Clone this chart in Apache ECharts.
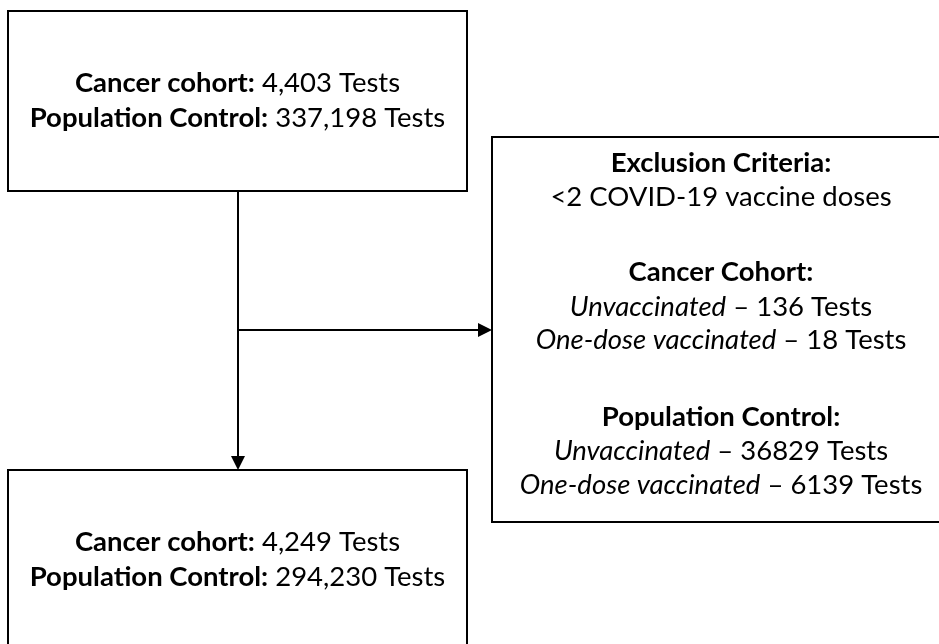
<!DOCTYPE html>
<html>
<head>
<meta charset="utf-8">
<script src="https://cdn.jsdelivr.net/npm/echarts@6/dist/echarts.min.js"></script>
<style>
  html, body { margin: 0; padding: 0; background: #fff; }
  #chart { width: 939px; height: 644px; }
</style>
</head>
<body>
<div id="chart"></div>
<script>
// numbers shown in the flow diagram
const groupLabels = ['Cancer cohort', 'Population Control']
const excludedLabels = ['Cancer Cohort', 'Population Control']
const initialTests = [4403, 337198]
const finalTests = [4249, 294230]
const unvaccinated = [136, 36829]
const oneDose = [18, 6139]
const exclusionTitle = 'Exclusion Criteria:'
const exclusionRule = '<2 COVID-19 vaccine doses'

// page layout (pixels), kept apart from the data
const layout = {
  top: { x0: 8, y0: 11, x1: 467, y1: 191, lines: [83, 118] },
  side: { x0: 492, y0: 137, x1: 950, y1: 522, lines: [163, 197, 272, 307, 340, 417, 451, 485] },
  bottom: { x0: 8, y0: 470, x1: 467, y1: 662, lines: [542, 577] },
  trunkX: 238,
  branchY: 330,
  arrow: 14
}

const FONT = 'Lato, "Open Sans", sans-serif'
const FS = 27.5
const fmt = n => n.toLocaleString('en-US')

const countLines = (values) => groupLabels.map((g, i) => `{b|${g}:}{n| ${fmt(values[i])} Tests}`)

const sideLines = [`{b|${exclusionTitle}}`, `{n|${exclusionRule}}`]
excludedLabels.forEach((g, i) => {
  sideLines.push(`{b|${g}:}`)
  sideLines.push(`{i|Unvaccinated}{n| – ${unvaccinated[i]} Tests}`)
  sideLines.push(`{i|One-dose vaccinated}{n| – ${oneDose[i]} Tests}`)
})

const boxes = [
  Object.assign({ text: countLines(initialTests) }, layout.top),
  Object.assign({ text: sideLines }, layout.side),
  Object.assign({ text: countLines(finalTests) }, layout.bottom)
]

const rich = {
  b: { fontFamily: FONT, fontSize: FS, fontWeight: 'bold', fill: '#000' },
  n: { fontFamily: FONT, fontSize: FS, fontWeight: 'normal', fill: '#000' },
  i: { fontFamily: FONT, fontSize: FS, fontStyle: 'italic', fill: '#000' }
}

function renderBox(params, api) {
  const b = boxes[api.value(0)]
  const p0 = api.coord([b.x0, b.y0])
  const p1 = api.coord([b.x1, b.y1])
  const cx = (p0[0] + p1[0]) / 2
  const children = [{
    type: 'rect',
    shape: { x: p0[0], y: p0[1], width: p1[0] - p0[0], height: p1[1] - p0[1] },
    style: { fill: '#fff', stroke: '#000', lineWidth: 2 }
  }]
  b.text.forEach((t, k) => {
    children.push({
      type: 'text',
      style: {
        x: cx,
        y: api.coord([0, b.lines[k]])[1],
        text: t,
        align: 'center',
        verticalAlign: 'middle',
        fontFamily: FONT,
        fontSize: FS,
        fill: '#000',
        rich: rich
      }
    })
  })
  return { type: 'group', children: children }
}

const a = layout.arrow / 2
const links = [
  { coords: [[layout.trunkX, layout.top.y1], [layout.trunkX, layout.bottom.y0 - a]] },
  { coords: [[layout.trunkX, layout.branchY], [layout.side.x0 - a, layout.branchY]] }
]

const chart = echarts.init(document.getElementById('chart'))
chart.setOption({
  animation: false,
  backgroundColor: '#fff',
  grid: { left: 0, right: 0, top: 0, bottom: 0 },
  xAxis: { type: 'value', min: 0, max: 939, show: false },
  yAxis: { type: 'value', min: 0, max: 644, inverse: true, show: false },
  series: [
    {
      type: 'custom',
      clip: false,
      silent: true,
      data: boxes.map((b, i) => [i]),
      renderItem: renderBox,
      z: 2
    },
    {
      type: 'lines',
      coordinateSystem: 'cartesian2d',
      silent: true,
      data: links,
      symbol: ['none', 'triangle'],
      symbolSize: layout.arrow,
      lineStyle: { color: '#000', width: 2, opacity: 1 },
      itemStyle: { color: '#000' },
      z: 3
    }
  ]
})
</script>
</body>
</html>
